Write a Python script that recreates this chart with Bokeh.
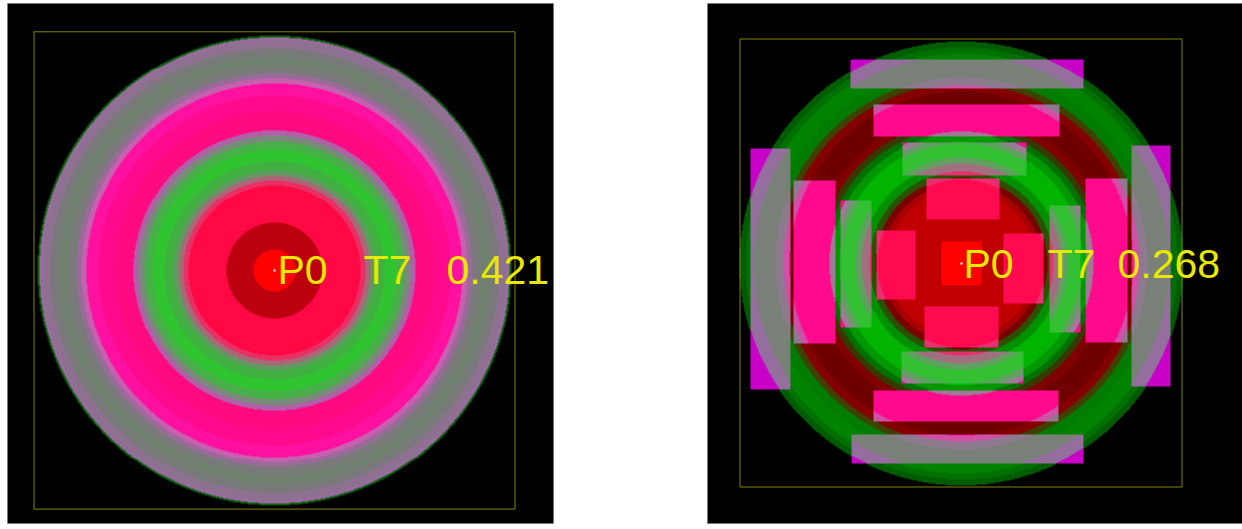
import numpy as np
from bokeh.plotting import figure
from bokeh.layouts import row
from bokeh.models import Range1d
from bokeh.core.properties import value
from bokeh.embed import file_html
from bokeh.resources import INLINE

# ---- spot P0 / T7, left detector: band outer radii and band colours ----
spot_a_radius = [21, 48, 86, 91, 96, 101, 110, 122, 130, 136, 141, 160,
                 176, 188, 193, 198, 206, 216, 224, 232, 235, 237]
spot_a_color = ["#ff0000", "#bc0010", "#ff0844", "#e83064", "#a86878", "#609a60",
                "#40b040", "#30c430", "#48b048", "#7a8a7a", "#b060a8", "#ff0a80",
                "#ff0a8c", "#ff10a0", "#c860b0", "#9a6a9a", "#7a7a7a", "#70806f",
                "#787a7a", "#8e7090", "#986c9e", "#0c600c", "#000000"]
label_a = ["P0", "T7", "0.421"]
label_a_x = [3, 89, 172]
box_a = dict(left=-240.5, right=240.5, bottom=-240.5, top=240.5)

# ---- right detector: background rings ----
spot_b_radius = [74, 80, 86, 92, 100, 122, 130, 136, 142, 150, 172, 180, 186,
                 196, 210, 216, 222]
spot_b_color = ["#c00000", "#a80000", "#7a0000", "#2a5000", "#009000", "#00b400",
                "#009800", "#007000", "#383800", "#800000", "#6e0000", "#840000",
                "#404000", "#007c00", "#008400", "#007000", "#005c00", "#000000"]

# ---- right detector: ring pattern seen through the aperture windows ----
win_radius = [30, 40, 84, 92, 100, 106, 120, 126, 132, 172, 178, 186, 208, 221]
win_color = ["#ff0000", "#c00010", "#ff0a50", "#e83070", "#a07080", "#60a060",
             "#33c033", "#60a060", "#a07898", "#ff0a8c", "#d050a8", "#8e7a8e",
             "#788078", "#946e9c", "#c800c8"]

# aperture windows (left, right, bottom, top)
win_left = [-111, -88, -59, -35, -37, -60, -88, -110,
            -211, -168, -121, -85, 42, 88, 124, 170, -20]
win_right = [122, 98, 65, 38, 37, 62, 97, 122,
             -171, -126, -90, -46, 82, 119, 166, 209, 20]
win_bottom = [175, 127, 88, 44, -84, -120, -158, -200,
              -126, -80, -64, -36, -40, -69, -79, -123, -22]
win_top = [204, 159, 121, 85, -43, -88, -127, -171,
           115, 83, 63, 33, 30, 58, 85, 118, 22]

label_b = ["P0", "T7", "0.268"]
label_b_x = [2, 86, 156]
box_b = dict(left=-221.5, right=220.5, bottom=-223.5, top=224.5)


def rgba(hex_list):
    out = np.zeros((len(hex_list), 4), dtype=np.uint8)
    for i, h in enumerate(hex_list):
        out[i] = [int(h[1:3], 16), int(h[3:5], 16), int(h[5:7], 16), 255]
    return out


def band_lookup(r, radius, colors):
    idx = np.searchsorted(np.asarray(radius, float), r, side="right")
    return rgba(colors)[idx]


def render(x0, x1, y0, y1, radius, colors, windows=None):
    w, h = int(x1 - x0), int(y1 - y0)
    xs = x0 + 0.5 + np.arange(w)
    ys = y0 + 0.5 + np.arange(h)
    X, Y = np.meshgrid(xs, ys)
    R = np.hypot(X, Y)
    img = band_lookup(R, radius, colors)
    if windows is not None:
        wr, wc, L, Rt, B, T = windows
        mask = np.zeros_like(R, dtype=bool)
        for l, rr, b, t in zip(L, Rt, B, T):
            mask |= (X >= l) & (X < rr) & (Y >= b) & (Y < t)
        img[mask] = band_lookup(R[mask], wr, wc)
    return img.view(np.uint32).reshape(h, w), w, h


def panel(width, xr, yr, borders):
    p = figure(width=width, height=529, x_range=Range1d(*xr), y_range=Range1d(*yr),
               output_backend="svg", toolbar_location=None,
               min_border_left=borders[0], min_border_right=borders[1],
               min_border_top=borders[2], min_border_bottom=borders[3],
               background_fill_color="black", border_fill_color="white",
               outline_line_color="#a0a0a0")
    p.axis.visible = False
    p.grid.visible = False
    return p


FONT = value("Liberation Sans")
LABEL_STYLE = dict(text_font=FONT, text_font_size="41px", text_color="#e8e800",
                   text_baseline="alphabetic")

# left detector
xa, ya = (-267, 279), (-255, 269)
pa = panel(700, xa, ya, (7, 147, 3, 2))
img_a, wa, ha = render(xa[0], xa[1], ya[0], ya[1], spot_a_radius, spot_a_color)
pa.image_rgba(image=[img_a], x=xa[0], y=ya[0], dw=wa, dh=ha)
pa.quad(left=[box_a["left"]], right=[box_a["right"]], bottom=[box_a["bottom"]],
        top=[box_a["top"]], fill_color=None, line_color="#858500", line_width=1)
pa.scatter(x=[0], y=[0], size=2, color="#c0c0c0")
pa.text(x=label_a_x, y=[0] * len(label_a), text=label_a, **LABEL_STYLE)

# right detector
xb, yb = (-254, 281), (-260, 260)
pb = panel(542, xb, yb, (7, 0, 3, 6))
img_b, wb, hb = render(xb[0], xb[1], yb[0], yb[1], spot_b_radius, spot_b_color,
                       windows=(win_radius, win_color, win_left, win_right,
                                win_bottom, win_top))
pb.image_rgba(image=[img_b], x=xb[0], y=yb[0], dw=wb, dh=hb)
pb.quad(left=[box_b["left"]], right=[box_b["right"]], bottom=[box_b["bottom"]],
        top=[box_b["top"]], fill_color=None, line_color="#858500", line_width=1)
pb.scatter(x=[0], y=[0], size=2, color="#c0c0c0")
pb.text(x=label_b_x, y=[0] * len(label_b), text=label_b, **LABEL_STYLE)

layout = row(pa, pb)
open("out.html", "w").write(file_html(layout, INLINE))
